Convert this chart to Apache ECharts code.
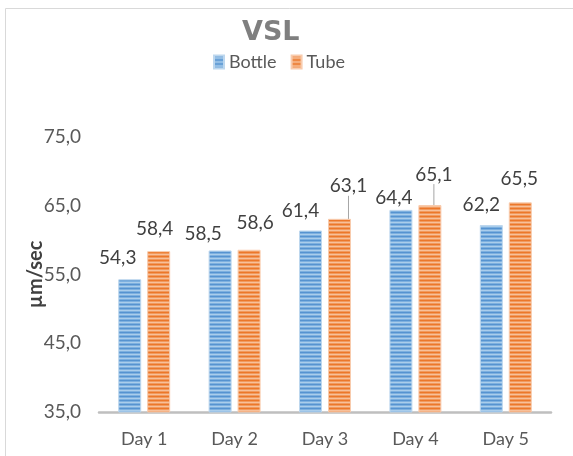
<!DOCTYPE html>
<html>
<head>
<meta charset="utf-8">
<script src="https://cdn.jsdelivr.net/npm/echarts@6/dist/echarts.min.js"></script>
<style>
    html, body { margin: 0; padding: 0; background: #fff; }
    #chart { width: 573px; height: 456px; }
</style>
</head>
<body>
<div id="chart"></div>
<script>
// data
const days = ['Day 1', 'Day 2', 'Day 3', 'Day 4', 'Day 5']
const bottle = [54.3, 58.5, 61.4, 64.4, 62.2]
const tube = [58.4, 58.6, 63.1, 65.1, 65.5]
const yTicks = [35, 45, 55, 65, 75]

// label nudges (dx, dy) like the hand-placed Excel labels
const bottleNudge = [[-12, -7], [-17, -2], [-10, -5], [-7, 2], [-10, -6]]
const tubeNudge = [[-4, -8], [6, -12], [9, -18], [4, -16], [-1, -9]]
const tubeGuide = [2, 3]

// horizontal stripe fill for the bars
function stripes (dark, mid, light) {
    let c = document.createElement('canvas')
    c.width = 4
    c.height = 4
    let ctx = c.getContext('2d')
    let rows = [dark, mid, light, mid]
    rows.forEach(function (col, i) {
        ctx.fillStyle = col
        ctx.fillRect(0, i, 4, 1)
    })
    return { image: c, repeat: 'repeat' }
}

const blueFill = stripes('#5693d0', '#7db0df', '#aacdeb')
const orangeFill = stripes('#ec772a', '#f19a5e', '#f7c09a')

function fmt (v) {
    return v.toFixed(1).replace('.', ',')
}

let chart = echarts.init(document.getElementById('chart'))

chart.setOption({
    animation: false,
    textStyle: { fontFamily: 'Lato' },
    graphic: [
        {
            type: 'polyline',
            shape: { points: [[5.5, 456], [5.5, 8.5], [573, 8.5]] },
            style: { stroke: '#d9d9d9', fill: null, lineWidth: 1 }
        }
    ],
    title: {
        text: 'VSL',
        left: 242,
        top: 19,
        padding: 0,
        textStyle: {
            fontFamily: 'DejaVu Sans',
            fontSize: 27,
            fontWeight: 'bold',
            color: '#7f7f7f'
        }
    },
    legend: {
        left: 213,
        top: 53,
        padding: 0,
        icon: 'rect',
        itemWidth: 10,
        itemHeight: 13,
        itemGap: 14,
        textStyle: { fontSize: 18, color: '#595959' },
        data: [
            { name: 'Bottle', itemStyle: { color: blueFill } },
            { name: 'Tube', itemStyle: { color: orangeFill } }
        ]
    },
    grid: {
        left: 99,
        right: 22,
        top: 137,
        bottom: 44
    },
    xAxis: {
        type: 'category',
        data: days,
        axisTick: { show: false },
        axisLine: { lineStyle: { color: '#bfbfbf', width: 2.5 } },
        axisLabel: { fontSize: 18, color: '#595959', margin: 18 }
    },
    yAxis: {
        type: 'value',
        min: yTicks[0],
        max: yTicks[yTicks.length - 1],
        interval: 10,
        splitLine: { show: false },
        axisLine: { show: false },
        axisTick: { show: false },
        axisLabel: {
            fontSize: 19,
            color: '#595959',
            margin: 18,
            formatter: function (v) { return fmt(v) }
        },
        name: 'µm/sec',
        nameLocation: 'middle',
        nameRotate: 90,
        nameGap: 53,
        nameMoveOverlap: false,
        nameTextStyle: { fontSize: 20, fontWeight: 'bold', color: '#404040' }
    },
    series: [
        {
            name: 'Bottle',
            type: 'bar',
            barWidth: 23,
            barGap: '26%',
            data: bottle,
            itemStyle: { color: blueFill, borderColor: '#bdd7ee', borderWidth: 1 },
            label: {
                show: true,
                position: 'top',
                fontSize: 19,
                color: '#404040',
                formatter: function (p) { return fmt(p.value) }
            },
            labelLayout: function (p) {
                let n = bottleNudge[p.dataIndex]
                return { dx: n[0], dy: n[1] }
            }
        },
        {
            name: 'Tube',
            type: 'bar',
            barWidth: 23,
            data: tube.map(function (v, i) {
                return {
                    value: v,
                    labelLine: { show: tubeGuide.indexOf(i) >= 0 }
                }
            }),
            itemStyle: { color: orangeFill, borderColor: '#f8cbad', borderWidth: 1 },
            label: {
                show: true,
                position: 'top',
                fontSize: 19,
                color: '#404040',
                formatter: function (p) { return fmt(p.value) }
            },
            labelLine: {
                show: false,
                lineStyle: { color: '#a6a6a6', width: 1 }
            },
            labelLayout: function (p) {
                let n = tubeNudge[p.dataIndex]
                return { dx: n[0], dy: n[1] }
            }
        }
    ]
})
</script>
</body>
</html>
